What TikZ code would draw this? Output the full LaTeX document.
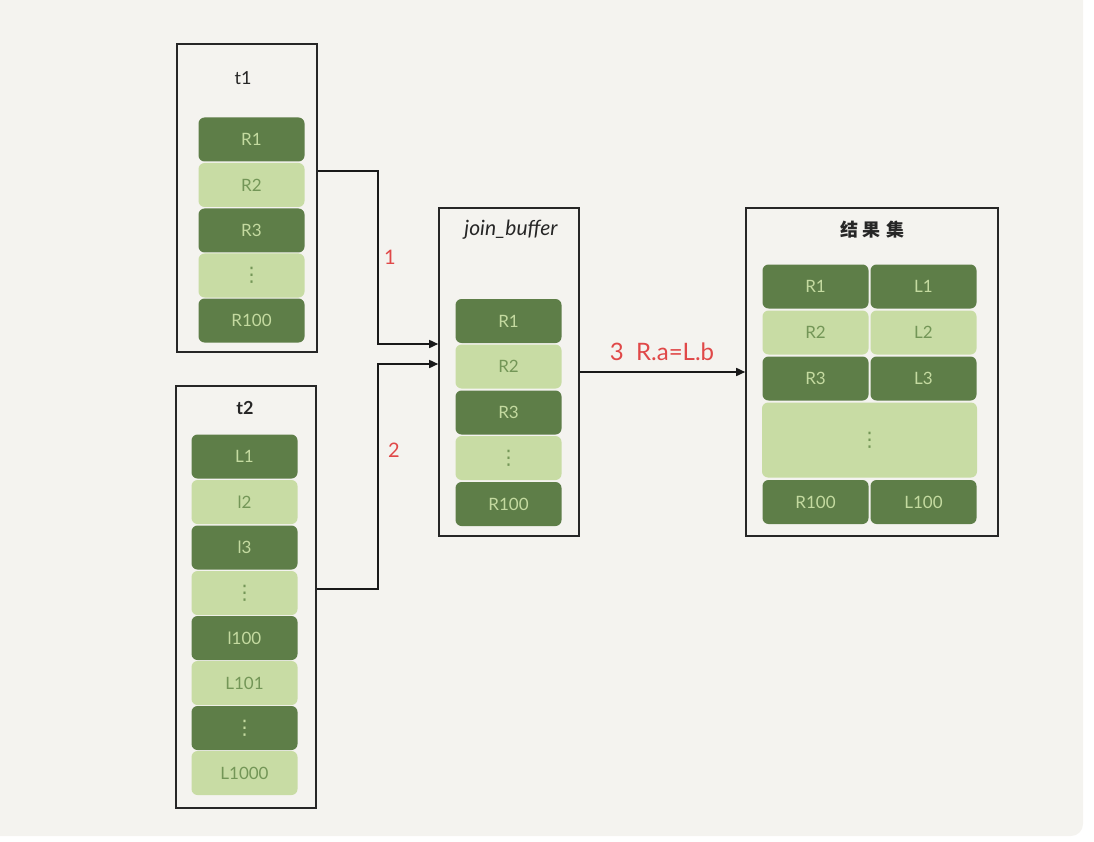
\documentclass[tikz,border=0pt]{standalone}
\usepackage{fontspec}
\setmainfont{Lato}
\newfontfamily\cjk{Noto Sans CJK SC}
\newfontfamily\dv{DejaVu Sans}
\usetikzlibrary{arrows.meta,calc}
\definecolor{bg}{HTML}{F4F3EF}
\definecolor{dkg}{HTML}{5E7E48}
\definecolor{ltg}{HTML}{C8DCA4}
\definecolor{txdk}{HTML}{C4DAA0}
\definecolor{txlt}{HTML}{739657}
\definecolor{redtx}{HTML}{E04848}
\tikzset{
  x=1pt,y=-1pt,
  cellbase/.style={rounded corners=6pt, minimum width=106pt, minimum height=44pt, inner sep=0pt, font=\fontsize{17}{19}\selectfont},
  dk/.style={cellbase, fill=dkg, text=txdk},
  lt/.style={cellbase, fill=ltg, text=txlt},
  frame/.style={draw=black!85, line width=1.6pt, inner sep=0pt},
  ttl/.style={font=\fontsize{18}{20}\selectfont, text=black!85},
  lbl/.style={font=\fontsize{20}{22}\selectfont, text=redtx},
  arr/.style={draw=black!90, line width=1.6pt, -{Triangle[length=9pt,width=8pt]}}
}
\newcommand{\vd}{{\dv\fontsize{20}{22}\selectfont ⋮}}
\begin{document}
\begin{tikzpicture}
\useasboundingbox (0,0) rectangle (1094,842);
\fill[bg, rounded corners=12pt] (-30,-30) rectangle (1083,836);

% frames
\node[frame, minimum width=140pt, minimum height=308pt] (t1) at (247,198) {};
\node[frame, minimum width=140pt, minimum height=422pt] (t2) at (246,597) {};
\node[frame, minimum width=140pt, minimum height=328pt] (jb) at (509,372) {};
\node[frame, minimum width=252pt, minimum height=328pt] (rs) at (872,372) {};

% titles
\node[ttl] (t1t) at (243,78) {t1};
\node[ttl, font=\fontsize{18}{20}\selectfont\bfseries] (t2t) at (245,408) {t2};
\node[ttl, font=\fontsize{21}{23}\selectfont\itshape] (jbt) at (511,230) {join\_buffer};
\node[ttl, font=\cjk\fontsize{18}{20}\selectfont\bfseries] (rst) at (872,230) {结\hspace{5pt}果\hspace{5pt}集};

% t1 cells
\node[dk] (a1) at (251.5,139.5) {R1};
\node[lt] (a2) at (251.5,185) {R2};
\node[dk] (a3) at (251.5,230.5) {R3};
\node[lt] (a4) at (251.5,275.5) {\vd};
\node[dk] (a5) at (251.5,320.5) {R100};

% t2 cells
\node[dk] (b1) at (244.5,456.5) {L1};
\node[lt] (b2) at (244.5,502) {l2};
\node[dk] (b3) at (244.5,547.5) {l3};
\node[lt] (b4) at (244.5,593) {\vd};
\node[dk] (b5) at (244.5,638) {l100};
\node[lt] (b6) at (244.5,683) {L101};
\node[dk] (b7) at (244.5,728) {\vd};
\node[lt] (b8) at (244.5,773) {L1000};

% join buffer cells
\node[dk] (c1) at (508.5,321) {R1};
\node[lt] (c2) at (508.5,366.5) {R2};
\node[dk] (c3) at (508.5,412.5) {R3};
\node[lt] (c4) at (508.5,458) {\vd};
\node[dk] (c5) at (508.5,504) {R100};

% result cells
\node[dk] (d1) at (815.5,286.5) {R1};
\node[dk] (e1) at (923.5,286.5) {L1};
\node[lt] (d2) at (815.5,332.5) {R2};
\node[lt] (e2) at (923.5,332.5) {L2};
\node[dk] (d3) at (815.5,378.5) {R3};
\node[dk] (e3) at (923.5,378.5) {L3};
\node[lt, minimum width=215pt, minimum height=75pt] (dd) at (869.5,440) {\vd};
\node[dk] (d5) at (815.5,502) {R100};
\node[dk] (e5) at (923.5,502) {L100};

% connectors
\coordinate (k1) at (378,171);
\coordinate (k2) at (378,589);
\draw[arr] (t1.east |- k1) -- (k1) |- (jb.west |- 0,344);
\draw[arr] (t2.east |- k2) -- (k2) |- (jb.west |- 0,364);
\draw[arr] (jb.east) -- (rs.west);

% labels
\node[lbl] (l1) at (390,257) {1};
\node[lbl] (l2) at (394,450) {2};
\node[lbl, font=\fontsize{24}{26}\selectfont] (l3) at (662,352) {3\ \ R.a=L.b};
\end{tikzpicture}
\end{document}
